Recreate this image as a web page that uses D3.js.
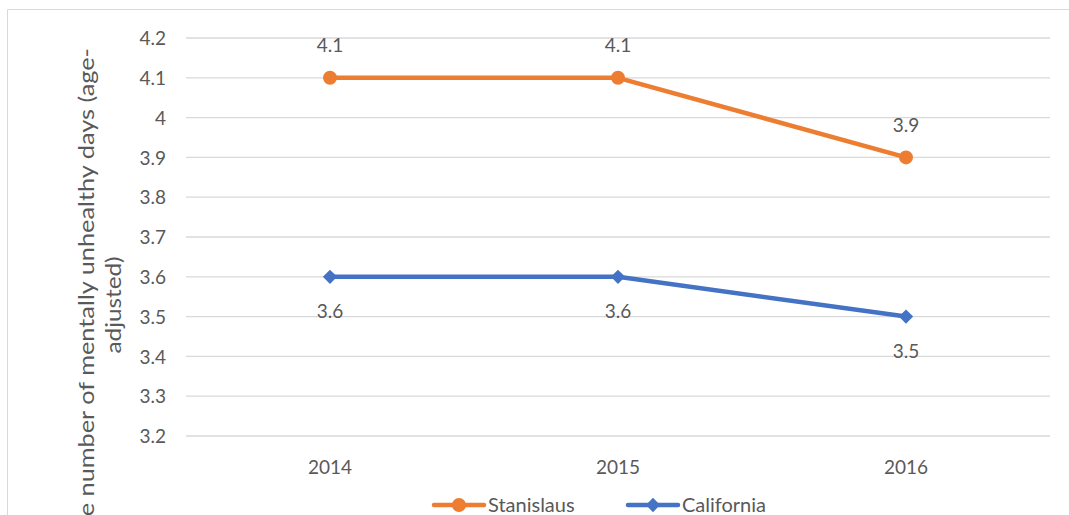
<!DOCTYPE html>
<html>
<head>
<meta charset="utf-8">
<script src="https://cdn.jsdelivr.net/npm/d3@7"></script>
<style>
  html, body { margin: 0; padding: 0; background: #fff; }
  svg { display: block; font-family: Lato, "Open Sans", sans-serif; }
</style>
</head>
<body>
<svg id="chart" width="1069" height="515"></svg>
<script>
// Average mentally unhealthy days, Stanislaus County vs. California
const years = ["2014", "2015", "2016"];
const stanislaus = [4.1, 4.1, 3.9];
const california = [3.6, 3.6, 3.5];
const yTicks = [3.2, 3.3, 3.4, 3.5, 3.6, 3.7, 3.8, 3.9, 4.0, 4.1, 4.2];
const seriesNames = ["Stanislaus", "California"];
const yTitleLines = ["Average number of mentally unhealthy days (age-", "adjusted)"];

const svg = d3.select("#chart");
const W = 1069, H = 515;
const plot = { left: 186, right: 1050, top: 38, bottom: 436 };
const grey = "#595959";
const colors = { Stanislaus: "#ED7D31", California: "#4472C4" };

// chart frame
svg.append("path")
  .attr("d", `M7.5,${H} L7.5,9.5 L${W},9.5`)
  .attr("fill", "none").attr("stroke", "#d9d9d9").attr("stroke-width", 1);

const x = d3.scaleBand().domain(years).range([plot.left, plot.right]);
const y = d3.scaleLinear().domain([3.2, 4.2]).range([plot.bottom, plot.top]);

// horizontal gridlines
svg.append("g").selectAll("line").data(yTicks).join("line")
  .attr("x1", plot.left).attr("x2", plot.right)
  .attr("y1", d => y(d)).attr("y2", d => y(d))
  .attr("stroke", "#d9d9d9").attr("stroke-width", 1.3);

// y axis labels
const yAxis = d3.axisLeft(y).tickValues(yTicks).tickSize(0).tickPadding(0)
  .tickFormat(d => d3.format("")(+d.toFixed(1)));
svg.append("g").attr("transform", `translate(166,0)`).call(yAxis)
  .call(g => g.select(".domain").remove())
  .call(g => g.selectAll("text").attr("fill", grey).attr("font-size", 19)
    .attr("font-family", "Lato, sans-serif").attr("dy", "0.35em"));

// x axis labels
const xAxis = d3.axisBottom(x).tickSize(0).tickPadding(0);
svg.append("g").attr("transform", `translate(0,467)`).call(xAxis)
  .call(g => g.select(".domain").remove())
  .call(g => g.selectAll("text").attr("fill", grey).attr("font-size", 19)
    .attr("font-family", "Lato, sans-serif").attr("dy", "0.35em"));

// y axis title (two lines, rotated; the long first line runs past the bottom edge)
const titleLayout = [
  { anchor: "end", pos: -48, len: 545, base: 94 },
  { anchor: "middle", pos: -305, len: 97, base: 121 }
];
const titleG = svg.append("g").attr("transform", "rotate(-90)");
titleG.selectAll("text").data(yTitleLines).join("text")
  .attr("x", (d, i) => titleLayout[i].pos)
  .attr("y", (d, i) => titleLayout[i].base)
  .attr("text-anchor", (d, i) => titleLayout[i].anchor)
  .attr("fill", grey).attr("font-size", 21)
  .attr("textLength", (d, i) => titleLayout[i].len)
  .attr("lengthAdjust", "spacingAndGlyphs")
  .text(d => d);

const cx = d => x(d) + x.bandwidth() / 2;
const line = d3.line().x(d => cx(d.year)).y(d => y(d.value));

const series = [
  { name: "Stanislaus", values: stanislaus, labelDy: -32, marker: d3.symbolCircle, size: 154 },
  { name: "California", values: california, labelDy: 35, marker: d3.symbolDiamond2, size: 130 }
];

series.forEach(s => {
  const pts = years.map((yr, i) => ({ year: yr, value: s.values[i] }));
  const g = svg.append("g");
  g.append("path").datum(pts).attr("d", line)
    .attr("fill", "none").attr("stroke", colors[s.name]).attr("stroke-width", 4.5)
    .attr("stroke-linejoin", "round").attr("stroke-linecap", "round");
  const sym = d3.symbol().type(s.marker).size(s.size);
  g.selectAll("path.m").data(pts).join("path").attr("class", "m")
    .attr("transform", d => `translate(${cx(d.year)},${y(d.value)})`)
    .attr("d", sym).attr("fill", colors[s.name]);
  g.selectAll("text").data(pts).join("text")
    .attr("x", d => cx(d.year)).attr("y", d => y(d.value) + s.labelDy)
    .attr("dy", "0.35em").attr("text-anchor", "middle")
    .attr("fill", grey).attr("font-size", 19)
    .text(d => d.value.toFixed(1));
});

// legend
const legend = [
  { name: "Stanislaus", x: 434, marker: d3.symbolCircle, size: 154 },
  { name: "California", x: 628, marker: d3.symbolDiamond2, size: 130 }
];
const lg = svg.append("g").attr("transform", "translate(0,505)");
legend.forEach(l => {
  lg.append("line").attr("x1", l.x).attr("x2", l.x + 50).attr("y1", 0).attr("y2", 0)
    .attr("stroke", colors[l.name]).attr("stroke-width", 4.5).attr("stroke-linecap", "round");
  lg.append("path").attr("transform", `translate(${l.x + 25},0)`)
    .attr("d", d3.symbol().type(l.marker).size(l.size)).attr("fill", colors[l.name]);
  lg.append("text").attr("x", l.x + 54).attr("y", 0).attr("dy", "0.35em")
    .attr("fill", grey).attr("font-size", 20).text(l.name);
});
</script>
</body>
</html>
